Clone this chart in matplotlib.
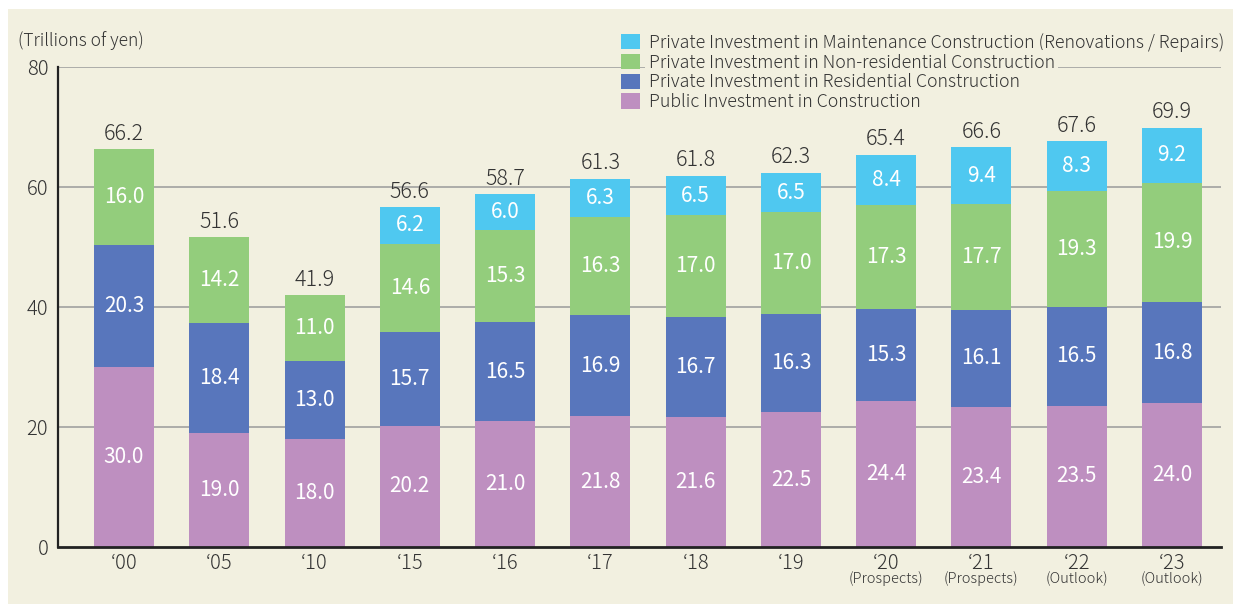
import matplotlib
matplotlib.use("Agg")
import matplotlib.pyplot as plt
from matplotlib.patches import Rectangle, Patch
from matplotlib.transforms import blended_transform_factory
import numpy as np

plt.rcParams['font.family'] = ['Noto Sans CJK JP', 'DejaVu Sans']
plt.rcParams['font.weight'] = 'light'

years = ["\u201800", "\u201805", "\u201810", "\u201815", "\u201816", "\u201817",
         "\u201818", "\u201819", "\u201820", "\u201821", "\u201822", "\u201823"]
notes = ["", "", "", "", "", "", "", "", "(Prospects)", "(Prospects)", "(Outlook)", "(Outlook)"]
public = [30.0, 19.0, 18.0, 20.2, 21.0, 21.8, 21.6, 22.5, 24.4, 23.4, 23.5, 24.0]
residential = [20.3, 18.4, 13.0, 15.7, 16.5, 16.9, 16.7, 16.3, 15.3, 16.1, 16.5, 16.8]
nonres = [16.0, 14.2, 11.0, 14.6, 15.3, 16.3, 17.0, 17.0, 17.3, 17.7, 19.3, 19.9]
maint = [None, None, None, 6.2, 6.0, 6.3, 6.5, 6.5, 8.4, 9.4, 8.3, 9.2]
totals = [66.2, 51.6, 41.9, 56.6, 58.7, 61.3, 61.8, 62.3, 65.4, 66.6, 67.6, 69.9]

series_names = ["Private Investment in Maintenance Construction (Renovations / Repairs)",
                "Private Investment in Non-residential Construction",
                "Private Investment in Residential Construction",
                "Public Investment in Construction"]

BG = "#F2F0E0"
C_PUB = "#BE8FC0"
C_RES = "#5876BC"
C_NON = "#93CD7C"
C_MNT = "#4FC8F0"
TXT = "#333333"

W, H = 1241, 606
fig = plt.figure(figsize=(W / 100, H / 100), dpi=100)
fig.patch.set_facecolor("white")
fig.patches.append(Rectangle((8 / W, 2 / H), 1225 / W, 595 / H, transform=fig.transFigure,
                             facecolor=BG, edgecolor="none", zorder=-10))

ax = fig.add_axes([58 / W, (H - 547) / H, (1221 - 58) / W, (547 - 67) / H])
ax.set_facecolor("none")

x = np.arange(len(years))
bw = 0.63
m = np.array([v if v is not None else 0 for v in maint])
pub = np.array(public)
res = np.array(residential)
non = np.array(nonres)

layers = [(pub, C_PUB), (res, C_RES), (non, C_NON), (m, C_MNT)]
bottom = np.zeros(len(x))
for vals, col in layers:
    ax.bar(x, vals, bw, bottom=bottom, color=col, zorder=3, linewidth=0)
    for i, v in enumerate(vals):
        if v > 0:
            ax.text(x[i], bottom[i] + v / 2, f"{v:.1f}", ha="center", va="center",
                    color="white", fontsize=15, fontweight="normal", zorder=4)
    bottom = bottom + vals

for i, t in enumerate(totals):
    ax.text(x[i], t + 0.8, f"{t:.1f}", ha="center", va="bottom", color=TXT, fontsize=15.5, zorder=4)

ax.set_xlim(-0.693, 11.515)
ax.set_ylim(0, 80)
ax.set_yticks([0, 20, 40, 60, 80])
ax.set_yticklabels(["0", "20", "40", "60", "80"])
for yv in [20, 40, 60, 80]:
    ax.axhline(yv, color="#9A9A9A", linewidth=1.1, zorder=1)

ax.set_xticks(x)
ax.set_xticklabels(years, fontsize=14.5, color=TXT)
ax.tick_params(axis="x", length=0, pad=4)
ax.tick_params(axis="y", length=0, pad=7, labelsize=14.5, labelcolor=TXT)

trans = blended_transform_factory(ax.transData, ax.transAxes)
for i, n in enumerate(notes):
    if n:
        ax.text(x[i], -0.066, n, transform=trans, ha="center", va="center",
                fontsize=10.5, color=TXT)

for s in ["top", "right"]:
    ax.spines[s].set_visible(False)
ax.spines["left"].set_color("#222222")
ax.spines["left"].set_linewidth(1.6)
ax.spines["bottom"].set_color("#222222")
ax.spines["bottom"].set_linewidth(2.0)
ax.spines["left"].set_zorder(5)
ax.spines["bottom"].set_zorder(5)

fig.text(18 / W, 1 - 41 / H, "(Trillions of yen)", ha="left", va="center", fontsize=12.5, color=TXT)

handles = [Patch(facecolor=c, edgecolor="none") for c in [C_MNT, C_NON, C_RES, C_PUB]]
leg = fig.legend(handles, series_names, loc="upper left", bbox_to_anchor=(621 / W, 1 - 33 / H),
                 frameon=False, fontsize=12.8, handlelength=1.05, handleheight=0.95,
                 handletextpad=0.5, labelspacing=0.1, borderpad=0, borderaxespad=0)
for t in leg.get_texts():
    t.set_color(TXT)
    t.set_bbox(dict(facecolor=BG, edgecolor="none", pad=2.5))

fig.savefig("out.png", dpi=100, facecolor=fig.get_facecolor())
